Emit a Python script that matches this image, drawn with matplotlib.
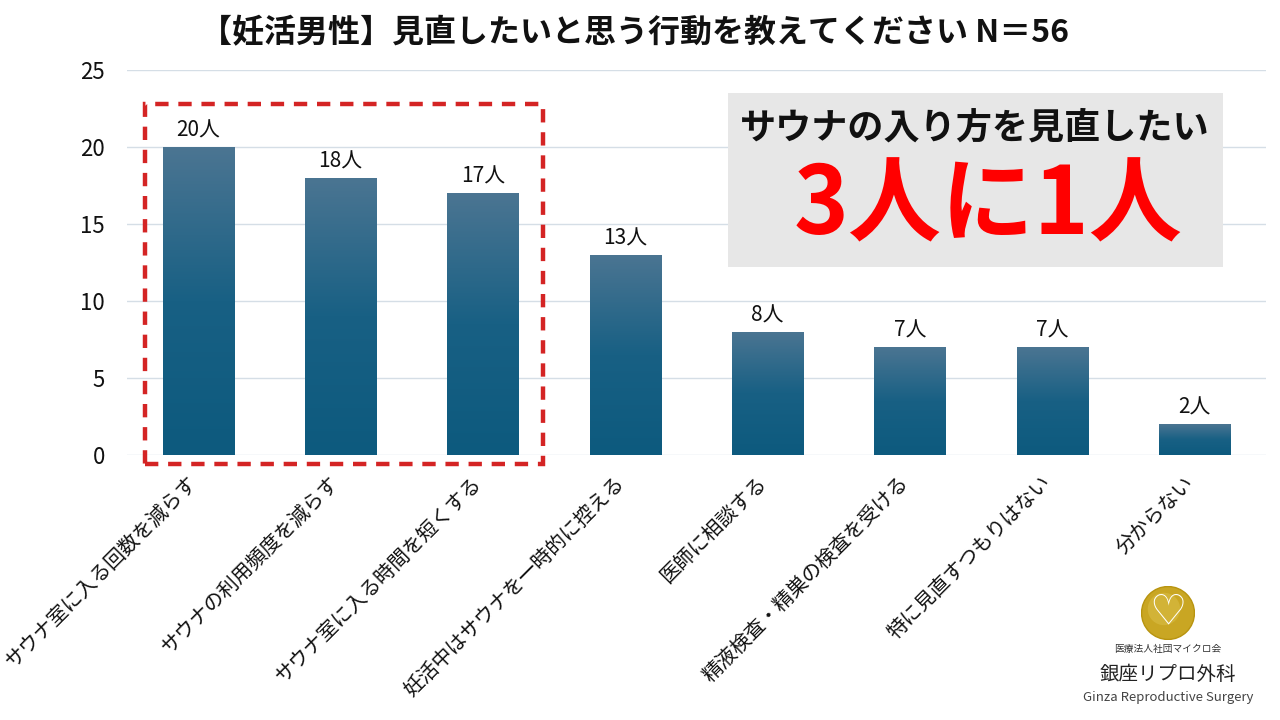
import matplotlib
matplotlib.use("Agg")
import matplotlib.pyplot as plt
import numpy as np
from matplotlib.colors import LinearSegmentedColormap
from matplotlib.patches import Rectangle, Circle

plt.rcParams['font.family'] = ['Noto Sans CJK JP', 'DejaVu Sans']

# ---- data ----
categories = ['サウナ室に入る回数を減らす', 'サウナの利用頻度を減らす', 'サウナ室に入る時間を短くする',
              '妊活中はサウナを一時的に控える', '医師に相談する', '精液検査・精巣の検査を受ける',
              '特に見直すつもりはない', '分からない']
values = [20, 18, 17, 13, 8, 7, 7, 2]
value_labels = ['20人', '18人', '17人', '13人', '8人', '7人', '7人', '2人']
yticks = [0, 5, 10, 15, 20, 25]
title = '【妊活男性】見直したいと思う行動を教えてください N＝56'
callout_line1 = 'サウナの入り方を見直したい'
callout_line2 = '3人に1人'

W, H = 1280, 720
fig = plt.figure(figsize=(12.8, 7.2), dpi=100)
fig.patch.set_facecolor('white')

ax = fig.add_axes([127 / W, 1 - 455 / H, (1266 - 127) / W, (455 - 70) / H])
x = np.arange(len(categories))
bars = ax.bar(x, values, width=0.5, color='#1f6486', zorder=2)

cmap = LinearSegmentedColormap.from_list('bargrad', ['#0d5a7e', '#186084', '#4b7592'])
grad = np.linspace(0, 1, 256).reshape(-1, 1)
for b in bars:
    x0, y0 = b.get_x(), b.get_y()
    w, h = b.get_width(), b.get_height()
    im = ax.imshow(grad, cmap=cmap, origin='lower', aspect='auto',
                   extent=[x0, x0 + w, y0, y0 + h], zorder=3)
    im.set_clip_path(b)

for xi, v, lab in zip(x, values, value_labels):
    ax.annotate(lab, (xi, v), xytext=(0, 4), textcoords='offset points',
                ha='center', va='bottom', fontsize=15, color='#111111')

ax.set_xlim(-0.5, len(categories) - 0.5)
ax.set_ylim(0, 25)
ax.set_yticks(yticks)
ax.yaxis.grid(True, color='#d5dee6', linewidth=1.0, zorder=0)
ax.set_axisbelow(True)
for s in ax.spines.values():
    s.set_visible(False)
ax.tick_params(axis='y', length=0, pad=16, labelsize=16, labelcolor='#111111')
ax.tick_params(axis='x', length=0, pad=8)
ax.set_xticks(x)
ax.set_xticklabels(categories, rotation=45, ha='right', va='center',
                   rotation_mode='anchor', fontsize=14.5, color='#111111')
for t in ax.get_xticklabels():
    t.set_transform(t.get_transform() + matplotlib.transforms.ScaledTranslation(-3 / 72, -10 / 72, fig.dpi_scale_trans))

# dashed highlight box
rect = Rectangle((-0.374, -0.58), 2.421 + 0.374, 22.8 + 0.58, fill=False,
                 edgecolor='#d42424', linewidth=3.2, linestyle=(0, (3, 2.2)),
                 clip_on=False, zorder=5)
ax.add_patch(rect)

# title
fig.text(635 / W, 1 - 33 / H, title, ha='center', va='center', fontsize=23,
         fontweight='bold', color='#111111')

# callout box
fig.patches.append(Rectangle((728 / W, 1 - 267 / H), (1223 - 728) / W, (267 - 93) / H,
                             transform=fig.transFigure, facecolor='#e7e7e7',
                             edgecolor='none', zorder=6))
fig.text(975 / W, 1 - 128 / H, callout_line1, ha='center', va='center', fontsize=26,
         fontweight='bold', color='#111111', zorder=7)
fig.text(988 / W, 1 - 207 / H, callout_line2, ha='center', va='center', fontsize=67,
         fontweight='bold', color='#ff0000', zorder=7)

# logo
lax = fig.add_axes([1141 / W, 1 - 640 / H, 54 / W, 54 / H])
lax.set_xlim(-1, 1); lax.set_ylim(-1, 1); lax.set_aspect('equal'); lax.axis('off')
lax.add_patch(Circle((0, 0), 0.98, facecolor='#c9a623', edgecolor='#b8940f', linewidth=1))
lax.add_patch(Circle((-0.15, 0.15), 0.6, facecolor='#d9bd45', edgecolor='none', alpha=0.6))
lax.text(0, 0.02, '♡', ha='center', va='center', fontsize=30, color='white',
         family=['DejaVu Sans'], fontweight='bold')
fig.text(1168 / W, 1 - 649 / H, '医療法人社団マイクロ会', ha='center', va='center',
         fontsize=7, color='#333333')
fig.text(1168 / W, 1 - 674 / H, '銀座リプロ外科', ha='center', va='center',
         fontsize=14, color='#222222')
fig.text(1168 / W, 1 - 697 / H, 'Ginza Reproductive Surgery', ha='center', va='center',
         fontsize=9.5, color='#444444')

fig.savefig('out.png', dpi=100)
